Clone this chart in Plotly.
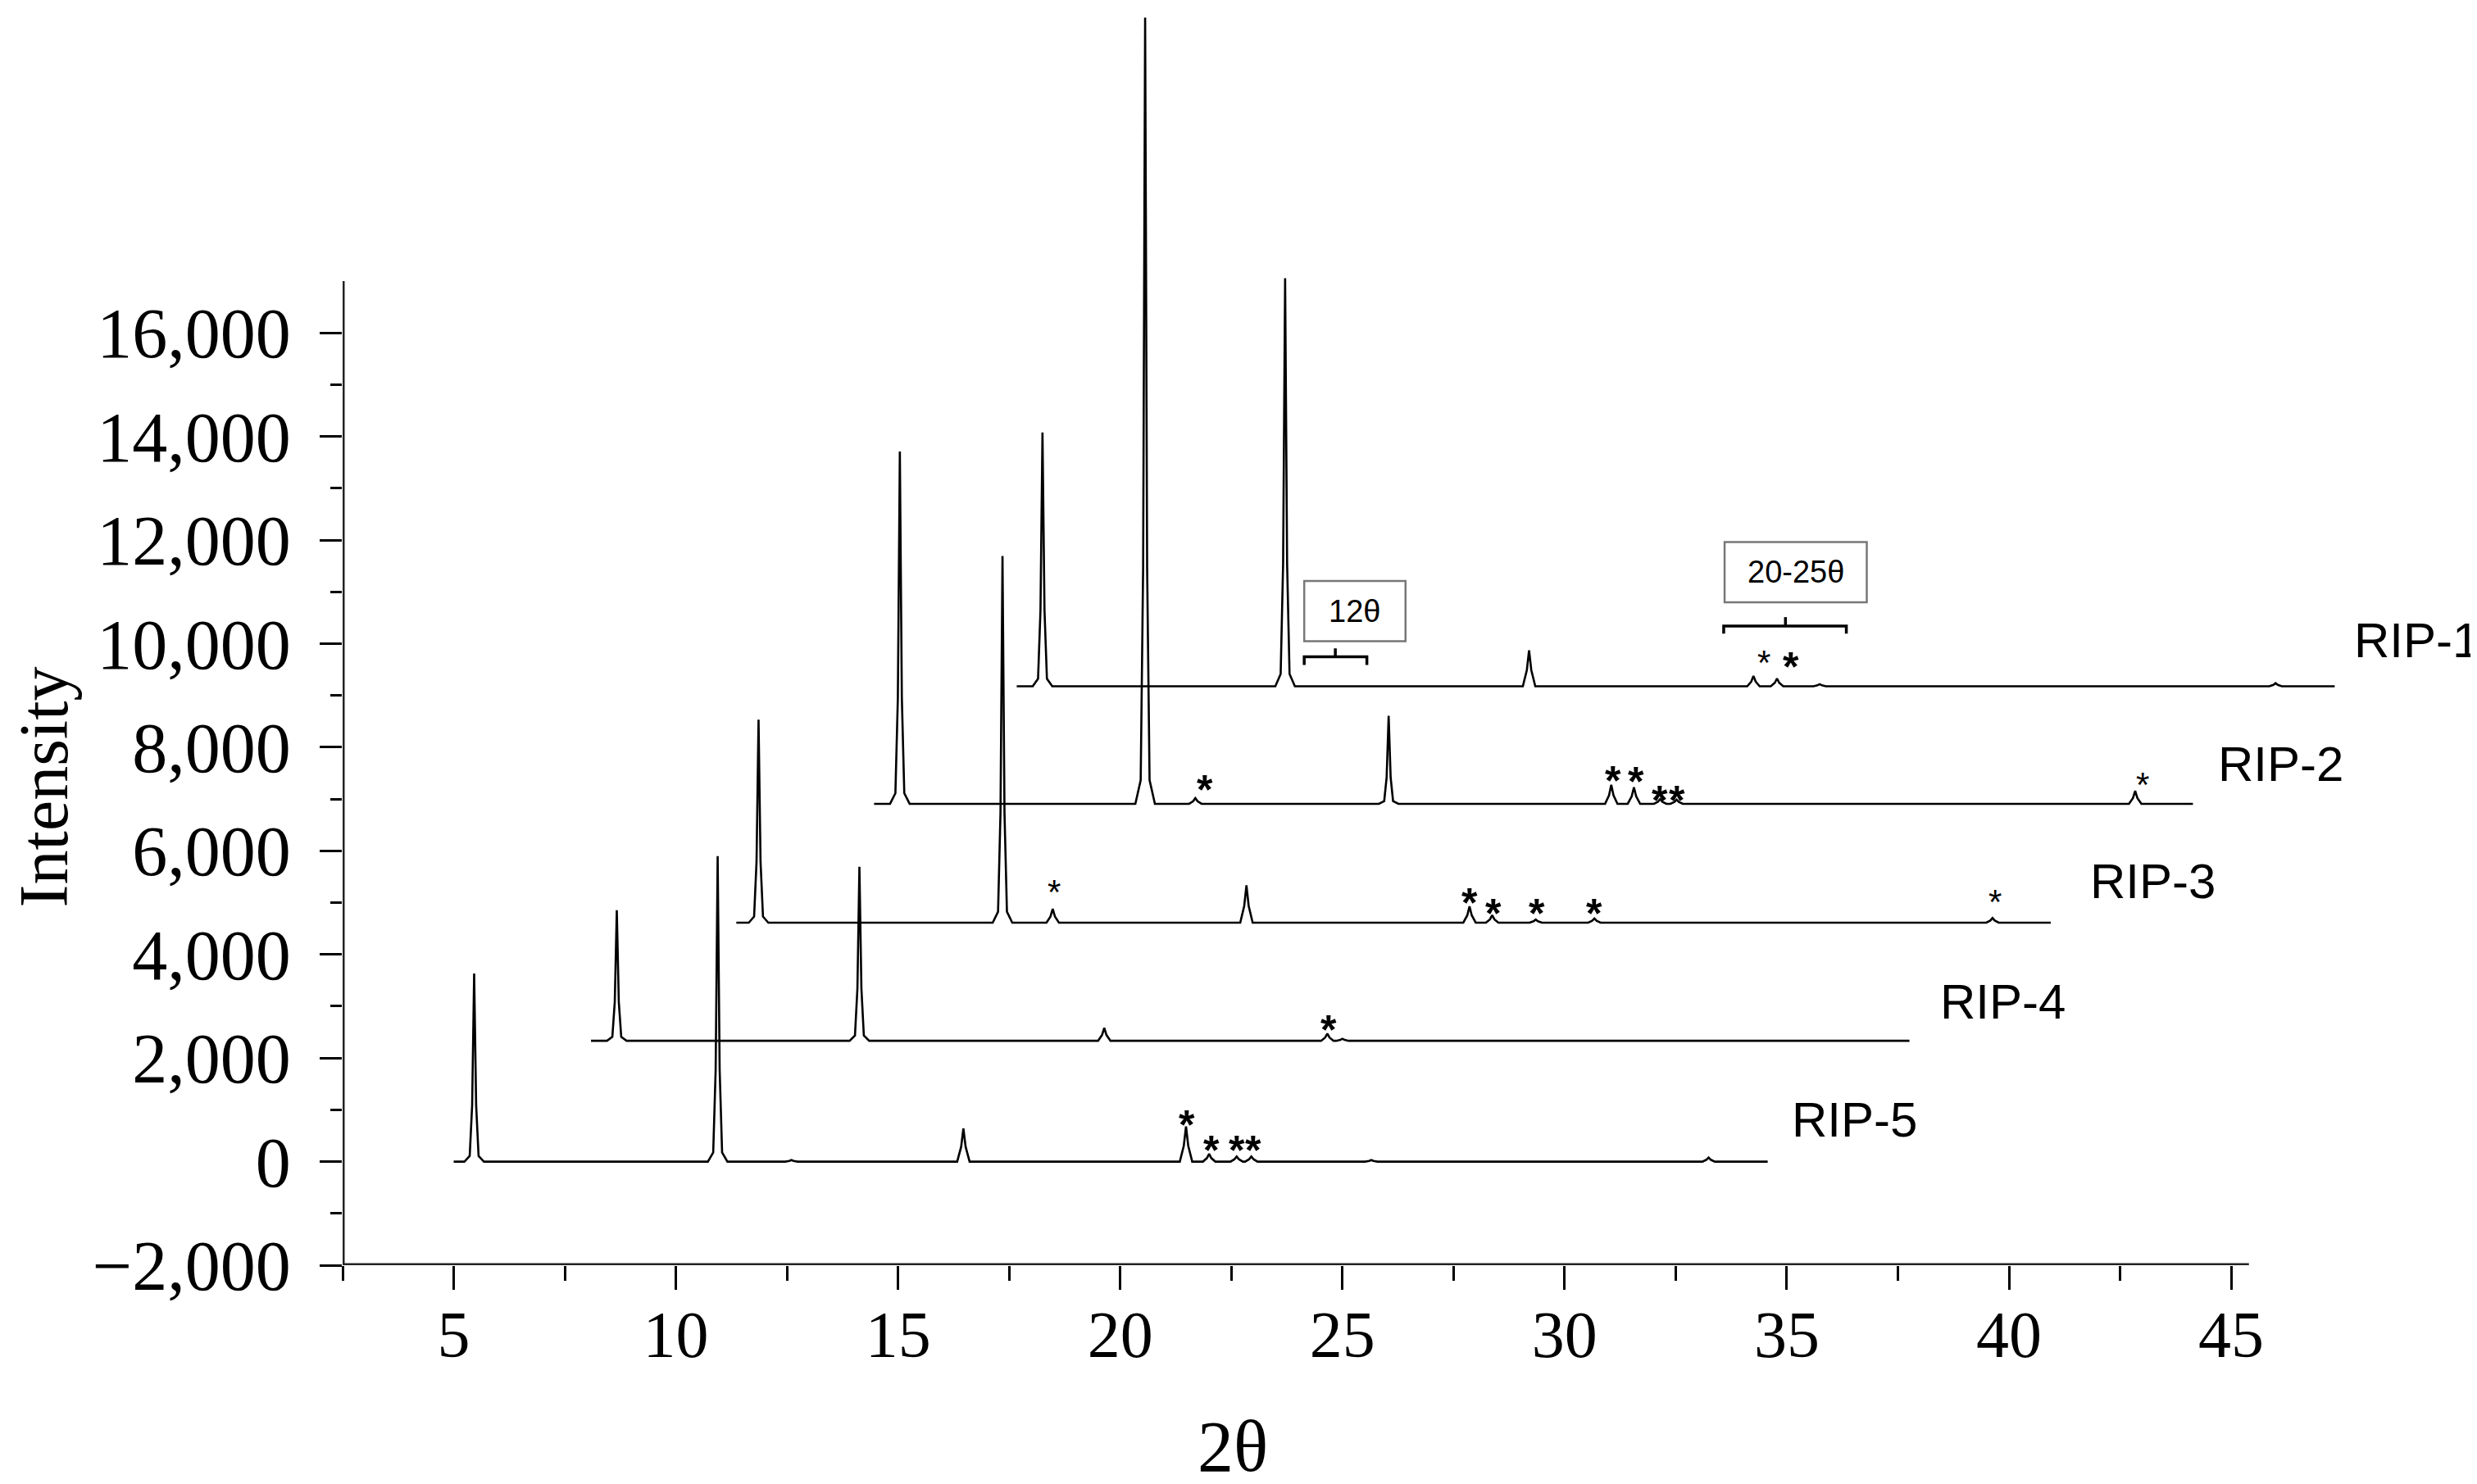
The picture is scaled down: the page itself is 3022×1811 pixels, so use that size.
import plotly.graph_objects as go

# stacked XRD patterns (positions as read on the 2θ axis, heights above each baseline)
names = ["RIP-1", "RIP-2", "RIP-3", "RIP-4", "RIP-5"]
baselines = [9177, 6908, 4613, 2332, 0]
starts = [17.67, 14.46, 11.36, 8.09, 5.0]
ends = [47.33, 44.14, 40.94, 37.76, 34.57]

rip1_pos = [18.25, 23.71, 29.2, 34.25, 34.78, 35.74, 46.0]
rip1_h = [4900, 7880, 695, 200, 150, 40, 60]
rip2_pos = [15.04, 20.56, 21.69, 26.04, 31.05, 31.56, 32.15, 32.52, 42.84]
rip2_h = [6800, 15180, 110, 1700, 366, 320, 90, 80, 248]
rip3_pos = [11.86, 17.35, 18.48, 22.84, 27.86, 28.37, 29.35, 30.67, 39.63]
rip3_h = [3920, 7080, 265, 720, 317, 143, 60, 80, 90]
rip4_pos = [8.67, 14.13, 19.64, 24.66, 25.0]
rip4_h = [2520, 3360, 250, 140, 40]
rip5_pos = [5.46, 10.94, 12.6, 16.47, 21.48, 22.0, 22.62, 22.95, 25.65, 33.24]
rip5_h = [3630, 5900, 30, 640, 680, 150, 100, 100, 30, 80]

peak_pos = [rip1_pos, rip2_pos, rip3_pos, rip4_pos, rip5_pos]
peak_h = [rip1_h, rip2_h, rip3_h, rip4_h, rip5_h]

# label positions (left edge, middle)
label_x = [47.73, 44.66, 41.79, 38.42, 35.08]
label_y = [10064, 7668, 5412, 3085, 811]

# asterisks marking peaks
star_x = [35.1, 21.91, 31.09, 31.61, 32.15, 32.53, 27.87, 28.39, 29.37, 30.67, 24.69, 21.49, 22.05, 22.62, 22.99]
star_y = [9720, 7354, 7527, 7509, 7140, 7140, 5168, 4966, 4954, 4954, 2707, 884, 390, 390, 390]
star_light_x = [34.48, 18.51, 39.69, 43.0]
star_light_y = [9771, 5345, 5159, 7424]

x_ticks = [5, 10, 15, 20, 25, 30, 35, 40, 45]
x_minor = [2.5, 7.5, 12.5, 17.5, 22.5, 27.5, 32.5, 37.5, 42.5]
y_ticks = [-2000, 0, 2000, 4000, 6000, 8000, 10000, 12000, 14000, 16000]
y_minor = [-1000, 1000, 3000, 5000, 7000, 9000, 11000, 13000, 15000]


def profile(start, end, base, pos, hgt):
    xs, ys = [start], [base]
    for p, h in zip(pos, hgt):
        if h >= 1000:
            offs = [-0.22, -0.1, -0.045, 0, 0.045, 0.1, 0.22]
            fr = [0, 0.03, 0.3, 1, 0.3, 0.03, 0]
        else:
            offs = [-0.14, -0.05, 0, 0.05, 0.14]
            fr = [0, 0.45, 1, 0.45, 0]
        xs += [p + o for o in offs]
        ys += [base + f * h for f in fr]
    xs.append(end)
    ys.append(base)
    return xs, ys


fig = go.Figure()
for i in range(len(names)):
    xs, ys = profile(starts[i], ends[i], baselines[i], peak_pos[i], peak_h[i])
    fig.add_trace(go.Scatter(x=xs, y=ys, mode="lines", name=names[i],
                             line=dict(color="black", width=2.6), showlegend=False))

for i in range(len(names)):
    fig.add_annotation(x=label_x[i], y=label_y[i], text=names[i], showarrow=False,
                       xanchor="left", yanchor="middle",
                       font=dict(family="Liberation Sans", size=60, color="black"))

for sx, sy in zip(star_x, star_y):
    fig.add_annotation(x=sx, y=sy, text="<b>*</b>", showarrow=False, yshift=-11,
                       font=dict(family="Liberation Sans", size=50, color="black"))
for sx, sy in zip(star_light_x, star_light_y):
    fig.add_annotation(x=sx, y=sy, text="*", showarrow=False, yshift=-9,
                       font=dict(family="Liberation Sans", size=42, color="black"))

# boxed range labels with brackets
boxes = [
    dict(x0=24.14, x1=26.42, y0=10046, y1=11210, text="12θ", bx0=24.14, bx1=25.55, bmid=24.84,
         by=9747, bend=9588, btop=9909),
    dict(x0=33.6, x1=36.8, y0=10800, y1=11960, text="20-25θ", bx0=33.58, bx1=36.34, bmid=34.97,
         by=10338, bend=10195, btop=10512),
]
for b in boxes:
    fig.add_shape(type="rect", x0=b["x0"], x1=b["x1"], y0=b["y0"], y1=b["y1"],
                  line=dict(color="#777777", width=2.5), fillcolor="white")
    fig.add_annotation(x=(b["x0"] + b["x1"]) / 2, y=(b["y0"] + b["y1"]) / 2, text=b["text"],
                       showarrow=False, font=dict(family="Liberation Sans", size=38, color="black"))
    fig.add_shape(type="path",
                  path=f"M {b['bx0']},{b['bend']} L {b['bx0']},{b['by']} L {b['bx1']},{b['by']} L {b['bx1']},{b['bend']}",
                  line=dict(color="black", width=3.5))
    fig.add_shape(type="line", x0=b["bmid"], x1=b["bmid"], y0=b["by"], y1=b["btop"],
                  line=dict(color="black", width=3.5))

# axis lines (shorter than the plotting area)
fig.add_shape(type="line", x0=2.5, x1=2.5, y0=-2000, y1=17000, line=dict(color="#222222", width=5))
fig.add_shape(type="line", x0=2.5, x1=45.4, y0=-2000, y1=-2000, line=dict(color="#222222", width=5))

# axis titles
fig.add_annotation(xref="paper", yref="paper", x=-0.1397, y=0.38, xanchor="center", yanchor="middle",
                   text="Intensity", textangle=-90, showarrow=False,
                   font=dict(family="Liberation Serif", size=84, color="black"))
fig.add_annotation(xref="paper", yref="paper", x=0.4158, y=-0.1445, xanchor="center", yanchor="middle",
                   text="2θ", showarrow=False,
                   font=dict(family="Liberation Serif", size=88, color="black"))

fig.update_layout(
    width=3022, height=1811,
    margin=dict(l=410, r=0, t=0, b=275),
    plot_bgcolor="white", paper_bgcolor="white",
)
fig.update_xaxes(range=[2.5, 50.68], showgrid=False, zeroline=False, showline=False,
                 tickmode="array", tickvals=x_ticks, ticks="outside", ticklen=29, tickwidth=2.5,
                 tickcolor="black", ticklabelstandoff=-14,
                 tickfont=dict(family="Liberation Serif", size=80, color="black"),
                 minor=dict(tickmode="array", tickvals=x_minor, ticks="outside", ticklen=18,
                            tickwidth=2.5, tickcolor="black", showgrid=False))
fig.update_yaxes(range=[-2000, 22300], showgrid=False, zeroline=False, showline=False,
                 tickmode="array", tickvals=y_ticks, tickformat=",", ticks="outside", ticklen=27,
                 tickwidth=2.5, tickcolor="black", ticklabelstandoff=18,
                 tickfont=dict(family="Liberation Serif", size=86, color="black"),
                 minor=dict(tickmode="array", tickvals=y_minor, ticks="outside", ticklen=14,
                            tickwidth=2.5, tickcolor="black", showgrid=False))

fig.write_html("out.html")
